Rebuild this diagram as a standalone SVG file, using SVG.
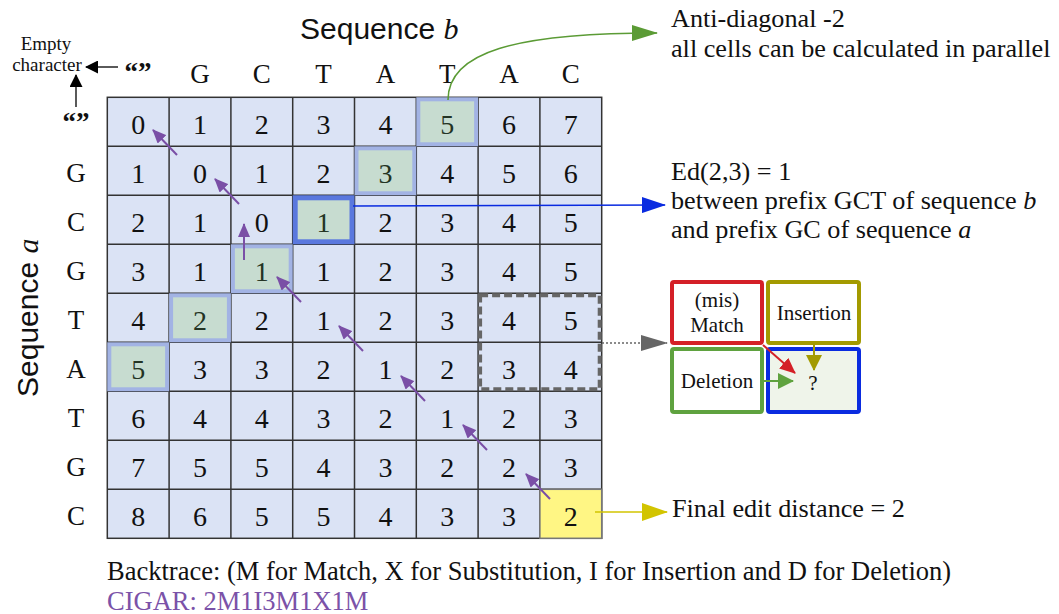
<svg xmlns="http://www.w3.org/2000/svg" width="1059" height="614" viewBox="0 0 1059 614">
  <style>
    text { font-family: "Liberation Serif", "Times New Roman", serif; fill: #111; }
    .title { font-family: "Liberation Sans", Arial, sans-serif; font-size: 30px; }
    .title tspan.v { font-family: "Liberation Serif", serif; font-style: italic; }
    .hdr { font-size: 27px; text-anchor: middle; }
    .q { font-size: 27px; font-weight: bold; text-anchor: middle; }
    .num { font-size: 28px; text-anchor: middle; }
    .hl-num { fill: #243424; }
    .note { font-size: 26.2px; }
    .small { font-size: 19px; text-anchor: middle; }
    .leg { font-size: 21px; text-anchor: middle; }
    .cell { fill: #dbe3f5; stroke: #333; stroke-width: 1.5; }
    .hl { fill: #c7dcd0; stroke: #a2b3e4; stroke-width: 4; }
    .hl-strong { fill: #c7dcd0; stroke: #5a78de; stroke-width: 5; }
    .bt { stroke: #7a4fa6; stroke-width: 2; fill: none; marker-end: url(#mPurple); }
    .bottom { font-size: 26.5px; }
  </style>
  <defs>
    <marker id="mPurple" markerUnits="userSpaceOnUse" markerWidth="14" markerHeight="12" refX="13" refY="6" orient="auto">
      <path d="M0,0 L14,6 L0,12 z" fill="#7a4fa6"/>
    </marker>
    <marker id="mBlack" markerUnits="userSpaceOnUse" markerWidth="13" markerHeight="13" refX="12" refY="6.5" orient="auto">
      <path d="M0,0 L13,6.5 L0,13 z" fill="#000"/>
    </marker>
    <marker id="mGreen" markerUnits="userSpaceOnUse" markerWidth="26" markerHeight="16" refX="25" refY="8" orient="auto">
      <path d="M0,0 L26,8 L0,16 z" fill="#5b9b35"/>
    </marker>
    <marker id="mBlue" markerUnits="userSpaceOnUse" markerWidth="24" markerHeight="16" refX="23" refY="8" orient="auto">
      <path d="M0,0 L24,8 L0,16 z" fill="#0a2be0"/>
    </marker>
    <marker id="mGrey" markerUnits="userSpaceOnUse" markerWidth="27" markerHeight="16" refX="26" refY="8" orient="auto">
      <path d="M0,0 L27,8 L0,16 z" fill="#666"/>
    </marker>
    <marker id="mYellow" markerUnits="userSpaceOnUse" markerWidth="26" markerHeight="18" refX="25" refY="9" orient="auto">
      <path d="M0,0 L26,9 L0,18 z" fill="#d2c400"/>
    </marker>
    <marker id="mRed" markerUnits="userSpaceOnUse" markerWidth="16" markerHeight="14" refX="15" refY="7" orient="auto">
      <path d="M0,0 L16,7 L0,14 z" fill="#d42027"/>
    </marker>
    <marker id="mOlive" markerUnits="userSpaceOnUse" markerWidth="16" markerHeight="16" refX="15" refY="8" orient="auto">
      <path d="M0,0 L16,8 L0,16 z" fill="#a39a00"/>
    </marker>
    <marker id="mLegGreen" markerUnits="userSpaceOnUse" markerWidth="16" markerHeight="16" refX="15" refY="8" orient="auto">
      <path d="M0,0 L16,8 L0,16 z" fill="#5fa23f"/>
    </marker>
  </defs>

  <rect width="1059" height="614" fill="#fff"/>

  <!-- axis titles -->
  <g id="title-b">
    <text class="title" x="300" y="39">Sequence <tspan class="v">b</tspan></text>
  </g>
  <g id="title-a">
    <text class="title" transform="translate(38,397) rotate(-90)">Sequence <tspan class="v">a</tspan></text>
  </g>

  <!-- empty character callout -->
  <g id="empty-char">
    <text class="small" x="46" y="50">Empty</text>
    <text class="small" x="47" y="71">character</text>
    <text class="q" x="138" y="81">“”</text>
    <text class="q" x="76" y="131">“”</text>
  </g>

  <!-- column headers: sequence b -->
  <g id="col-headers">
    <text class="hdr" x="200" y="83">G</text>
    <text class="hdr" x="261.8" y="83">C</text>
    <text class="hdr" x="323.6" y="83">T</text>
    <text class="hdr" x="385.4" y="83">A</text>
    <text class="hdr" x="447.2" y="83">T</text>
    <text class="hdr" x="509" y="83">A</text>
    <text class="hdr" x="570.8" y="83">C</text>
  </g>

  <!-- row headers: sequence a -->
  <g id="row-headers">
    <text class="hdr" x="76" y="182">G</text>
    <text class="hdr" x="76" y="231">C</text>
    <text class="hdr" x="76" y="280">G</text>
    <text class="hdr" x="76" y="329">T</text>
    <text class="hdr" x="76" y="378">A</text>
    <text class="hdr" x="76" y="427">T</text>
    <text class="hdr" x="76" y="476">G</text>
    <text class="hdr" x="76" y="525">C</text>
  </g>

  <!-- DP matrix -->
  <g id="matrix">
    <rect class="cell" x="107.3" y="97.3" width="494.4" height="441"/>
    <g stroke="#333" stroke-width="1.5">
      <line x1="169.1" y1="97.3" x2="169.1" y2="538.3"/>
      <line x1="230.9" y1="97.3" x2="230.9" y2="538.3"/>
      <line x1="292.7" y1="97.3" x2="292.7" y2="538.3"/>
      <line x1="354.5" y1="97.3" x2="354.5" y2="538.3"/>
      <line x1="416.3" y1="97.3" x2="416.3" y2="538.3"/>
      <line x1="478.1" y1="97.3" x2="478.1" y2="538.3"/>
      <line x1="539.9" y1="97.3" x2="539.9" y2="538.3"/>
      <line x1="107.3" y1="146.3" x2="601.7" y2="146.3"/>
      <line x1="107.3" y1="195.3" x2="601.7" y2="195.3"/>
      <line x1="107.3" y1="244.3" x2="601.7" y2="244.3"/>
      <line x1="107.3" y1="293.3" x2="601.7" y2="293.3"/>
      <line x1="107.3" y1="342.3" x2="601.7" y2="342.3"/>
      <line x1="107.3" y1="391.3" x2="601.7" y2="391.3"/>
      <line x1="107.3" y1="440.3" x2="601.7" y2="440.3"/>
      <line x1="107.3" y1="489.3" x2="601.7" y2="489.3"/>
    </g>
    <!-- anti-diagonal cells -->
    <rect class="hl" x="418.3" y="99.3" width="57.8" height="45"/>
    <rect class="hl" x="356.5" y="148.3" width="57.8" height="45"/>
    <rect class="hl-strong" x="295.2" y="197.8" width="56.8" height="44"/>
    <rect class="hl" x="232.9" y="246.3" width="57.8" height="45"/>
    <rect class="hl" x="171.1" y="295.3" width="57.8" height="45"/>
    <rect class="hl" x="109.3" y="344.3" width="57.8" height="45"/>
    <!-- final cell -->
    <rect x="539.9" y="489.3" width="61.8" height="49" fill="#fff684" stroke="#777" stroke-width="1.5"/>
    <!-- current cell and its neighbours -->
    <rect x="480.1" y="295.3" width="119.6" height="94" fill="none" stroke="#666" stroke-width="4" stroke-dasharray="8 4"/>

    <g class="num">
      <text class="num" x="138.2" y="134">0</text><text class="num" x="200" y="134">1</text><text class="num" x="261.8" y="134">2</text><text class="num" x="323.6" y="134">3</text><text class="num" x="385.4" y="134">4</text><text class="num hl-num" x="447.2" y="134">5</text><text class="num" x="509" y="134">6</text><text class="num" x="570.8" y="134">7</text>
      <text class="num" x="138.2" y="183">1</text><text class="num" x="200" y="183">0</text><text class="num" x="261.8" y="183">1</text><text class="num" x="323.6" y="183">2</text><text class="num hl-num" x="385.4" y="183">3</text><text class="num" x="447.2" y="183">4</text><text class="num" x="509" y="183">5</text><text class="num" x="570.8" y="183">6</text>
      <text class="num" x="138.2" y="232">2</text><text class="num" x="200" y="232">1</text><text class="num" x="261.8" y="232">0</text><text class="num hl-num" x="323.6" y="232">1</text><text class="num" x="385.4" y="232">2</text><text class="num" x="447.2" y="232">3</text><text class="num" x="509" y="232">4</text><text class="num" x="570.8" y="232">5</text>
      <text class="num" x="138.2" y="281">3</text><text class="num" x="200" y="281">1</text><text class="num hl-num" x="261.8" y="281">1</text><text class="num" x="323.6" y="281">1</text><text class="num" x="385.4" y="281">2</text><text class="num" x="447.2" y="281">3</text><text class="num" x="509" y="281">4</text><text class="num" x="570.8" y="281">5</text>
      <text class="num" x="138.2" y="330">4</text><text class="num hl-num" x="200" y="330">2</text><text class="num" x="261.8" y="330">2</text><text class="num" x="323.6" y="330">1</text><text class="num" x="385.4" y="330">2</text><text class="num" x="447.2" y="330">3</text><text class="num" x="509" y="330">4</text><text class="num" x="570.8" y="330">5</text>
      <text class="num hl-num" x="138.2" y="379">5</text><text class="num" x="200" y="379">3</text><text class="num" x="261.8" y="379">3</text><text class="num" x="323.6" y="379">2</text><text class="num" x="385.4" y="379">1</text><text class="num" x="447.2" y="379">2</text><text class="num" x="509" y="379">3</text><text class="num" x="570.8" y="379">4</text>
      <text class="num" x="138.2" y="428">6</text><text class="num" x="200" y="428">4</text><text class="num" x="261.8" y="428">4</text><text class="num" x="323.6" y="428">3</text><text class="num" x="385.4" y="428">2</text><text class="num" x="447.2" y="428">1</text><text class="num" x="509" y="428">2</text><text class="num" x="570.8" y="428">3</text>
      <text class="num" x="138.2" y="477">7</text><text class="num" x="200" y="477">5</text><text class="num" x="261.8" y="477">5</text><text class="num" x="323.6" y="477">4</text><text class="num" x="385.4" y="477">3</text><text class="num" x="447.2" y="477">2</text><text class="num" x="509" y="477">2</text><text class="num" x="570.8" y="477">3</text>
      <text class="num" x="138.2" y="526">8</text><text class="num" x="200" y="526">6</text><text class="num" x="261.8" y="526">5</text><text class="num" x="323.6" y="526">5</text><text class="num" x="385.4" y="526">4</text><text class="num" x="447.2" y="526">3</text><text class="num" x="509" y="526">3</text><text class="num" x="570.8" y="526">2</text>
    </g>
  </g>

  <!-- annotation texts -->
  <g id="note-antidiagonal">
    <text class="note" x="671" y="27">Anti-diagonal -2</text>
    <text class="note" x="671" y="57">all cells can be calculated in parallel</text>
  </g>
  <g id="note-ed">
    <text class="note" x="671" y="180">Ed(2,3) = 1</text>
    <text class="note" x="671" y="209">between prefix GCT of sequence <tspan font-style="italic">b</tspan></text>
    <text class="note" x="671" y="238">and prefix GC of sequence <tspan font-style="italic">a</tspan></text>
  </g>
  <g id="note-final">
    <text class="note" x="672" y="517">Final edit distance = 2</text>
  </g>

  <!-- recurrence legend -->
  <g id="leg-match">
    <rect x="672" y="282" width="90" height="61" rx="2" fill="#fff" stroke="#d42027" stroke-width="4"/>
    <text class="leg" x="717" y="307">(mis)</text>
    <text class="leg" x="717" y="332">Match</text>
  </g>
  <g id="leg-insertion">
    <rect x="768" y="282" width="91" height="61" rx="2" fill="#fff" stroke="#a39a00" stroke-width="4"/>
    <text class="leg" x="814" y="320">Insertion</text>
  </g>
  <g id="leg-deletion">
    <rect x="672" y="349" width="90" height="63" rx="2" fill="#fff" stroke="#5fa23f" stroke-width="4"/>
    <text class="leg" x="717" y="388">Deletion</text>
  </g>
  <g id="leg-current">
    <rect x="768" y="349" width="91" height="63" rx="2" fill="#eff4ea" stroke="#0a2be0" stroke-width="4"/>
    <text class="leg" x="813" y="390">?</text>
  </g>

  <!-- connectors -->
  <g id="connectors">
    <!-- empty character pointers -->
    <line x1="118" y1="67" x2="86" y2="67" stroke="#000" stroke-width="1.3" marker-end="url(#mBlack)"/>
    <line x1="76" y1="107" x2="76" y2="75" stroke="#000" stroke-width="1.3" marker-end="url(#mBlack)"/>

    <!-- backtrace path -->
    <line class="bt" x1="177" y1="155" x2="153" y2="130"/>
    <line class="bt" x1="239" y1="204" x2="215" y2="179"/>
    <line class="bt" x1="244" y1="260" x2="244" y2="224"/>
    <line class="bt" x1="301" y1="302" x2="277" y2="277"/>
    <line class="bt" x1="363" y1="351" x2="339" y2="326"/>
    <line class="bt" x1="425" y1="401" x2="401" y2="376"/>
    <line class="bt" x1="487" y1="450" x2="463" y2="425"/>
    <line class="bt" x1="550" y1="499" x2="526" y2="474"/>

    <!-- callouts -->
    <path d="M448,100 C448,52 515,33 657,33" fill="none" stroke="#5b9b35" stroke-width="1.6" marker-end="url(#mGreen)"/>
    <line x1="353" y1="206" x2="665" y2="205" stroke="#0a2be0" stroke-width="1.5" marker-end="url(#mBlue)"/>
    <line x1="602" y1="343" x2="667" y2="343" stroke="#666" stroke-width="1.5" stroke-dasharray="2 2" marker-end="url(#mGrey)"/>
    <line x1="595" y1="512" x2="667" y2="512" stroke="#d2c400" stroke-width="1.5" marker-end="url(#mYellow)"/>

    <!-- legend dependencies -->
    <line x1="763" y1="345" x2="795" y2="373" stroke="#d42027" stroke-width="2" marker-end="url(#mRed)"/>
    <line x1="814" y1="344" x2="814" y2="370" stroke="#a39a00" stroke-width="2" marker-end="url(#mOlive)"/>
    <line x1="763" y1="381" x2="793" y2="381" stroke="#5fa23f" stroke-width="2" marker-end="url(#mLegGreen)"/>
  </g>

  <!-- footer -->
  <g id="footer">
    <text class="bottom" x="107" y="580">Backtrace: (M for Match, X for Substitution, I for Insertion and D for Deletion)</text>
    <text class="bottom" x="107" y="610" style="fill:#7b52a8">CIGAR: 2M1I3M1X1M</text>
  </g>
</svg>
